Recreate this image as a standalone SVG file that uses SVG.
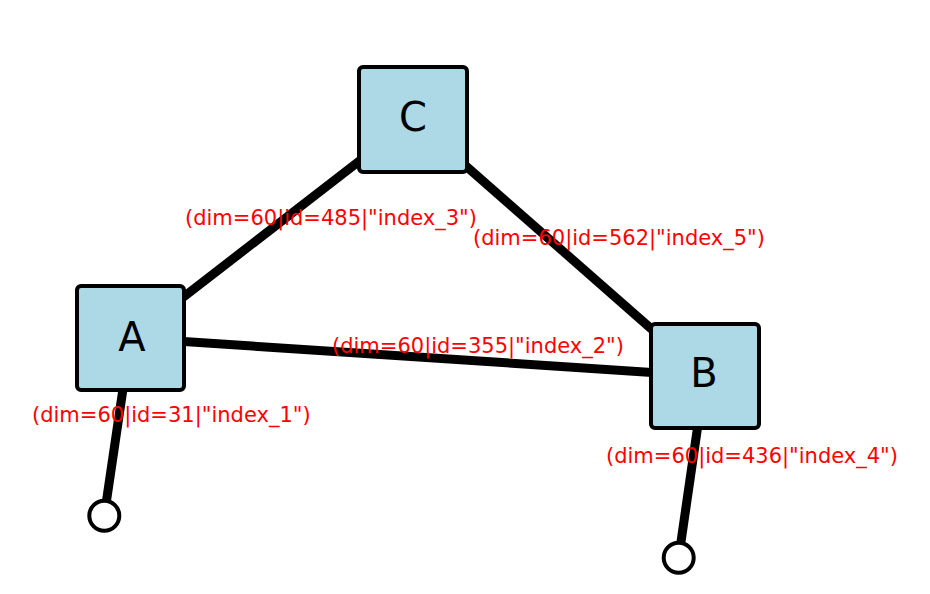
<svg xmlns="http://www.w3.org/2000/svg" width="930" height="594" viewBox="0 0 930 594">
  <style>
    .edge { stroke: #000; stroke-width: 9; fill: none; }
    .node rect { fill: #add8e6; stroke: #000; stroke-width: 4; }
    .node text { font-family: "DejaVu Sans", sans-serif; font-size: 40px; text-anchor: middle; fill: #000; }
    .term { fill: #fff; stroke: #000; stroke-width: 4; }
    .lbl { font-family: "DejaVu Sans", sans-serif; font-size: 21px; fill: #ff0000; }
  </style>
  <rect width="930" height="594" fill="#fff"/>
  <g id="connectors">
    <line class="edge" x1="130.5" y1="338" x2="413" y2="119.5"/>
    <line class="edge" x1="130.5" y1="338" x2="705" y2="376"/>
    <line class="edge" x1="413" y1="119.5" x2="705" y2="376"/>
    <line class="edge" x1="130.5" y1="338" x2="104.3" y2="515.7"/>
    <line class="edge" x1="705" y1="376" x2="678.7" y2="557.7"/>
    <circle class="term" cx="104.3" cy="515.7" r="15"/>
    <circle class="term" cx="678.7" cy="557.7" r="15"/>
  </g>
  <g id="node-A" class="node">
    <rect x="77" y="286" width="107" height="104" rx="4"/>
    <text x="132" y="351">A</text>
  </g>
  <g id="node-C" class="node">
    <rect x="359" y="67" width="108" height="105" rx="4"/>
    <text x="413" y="131">C</text>
  </g>
  <g id="node-B" class="node">
    <rect x="651" y="324" width="108" height="104" rx="4"/>
    <text x="704" y="387">B</text>
  </g>
  <g id="labels">
    <text class="lbl" x="185" y="225">(dim=60|id=485|"index_3")</text>
    <text class="lbl" x="473" y="245">(dim=60|id=562|"index_5")</text>
    <text class="lbl" x="332" y="353">(dim=60|id=355|"index_2")</text>
    <text class="lbl" x="32" y="422">(dim=60|id=31|"index_1")</text>
    <text class="lbl" x="606" y="463">(dim=60|id=436|"index_4")</text>
  </g>
</svg>
